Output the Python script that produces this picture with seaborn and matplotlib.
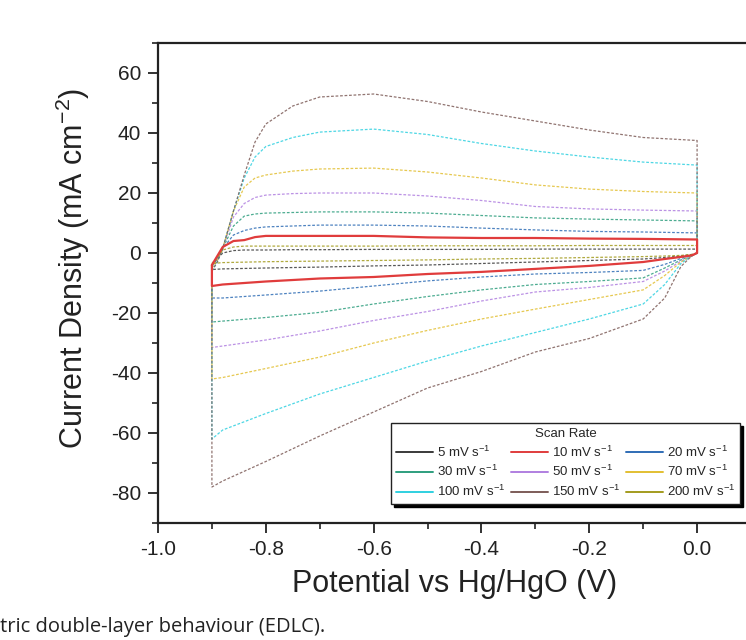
import matplotlib
matplotlib.use("Agg")
import matplotlib.pyplot as plt
import seaborn as sns
import pandas as pd
from matplotlib.lines import Line2D
from matplotlib.ticker import MultipleLocator

# ---------------- data ----------------
scan_rates = ["5", "10", "20", "30", "50", "70", "100", "150", "200"]
colors = ["#3a3a3a", "#e03c3c", "#2f6db5", "#2e9e7e", "#b07fe0",
          "#e2bf32", "#2fd0e0", "#7d5c58", "#a39b1e"]

# potential grids (V vs Hg/HgO)
E_anodic = [-0.90, -0.89, -0.88, -0.86, -0.84, -0.82, -0.80, -0.75, -0.70,
            -0.60, -0.50, -0.40, -0.30, -0.20, -0.10, 0.00]
E_cathodic = [0.00, -0.01, -0.03, -0.06, -0.10, -0.20, -0.30, -0.40, -0.50,
              -0.60, -0.70, -0.80, -0.88, -0.90]

# anodic (forward) current densities, mA cm-2
I_anodic_5 = [-4, -2, 0, 0.8, 1.0, 1.0, 1.0, 1.1, 1.1, 1.2, 1.2, 1.2, 1.3, 1.3, 1.3, 1.3]
I_anodic_10 = [-4, -1, 2, 4, 4.3, 5.3, 5.7, 5.7, 5.7, 5.7, 5.2, 5.0, 5.0, 4.8, 4.7, 4.5]
I_anodic_20 = [-4, -1.5, 1.5, 6, 7.5, 8.3, 8.7, 9, 9.3, 9.3, 9, 8.3, 7.7, 7.2, 7, 6.7]
I_anodic_30 = [-4.5, -2, 1.5, 9, 12.3, 13, 13.3, 13.5, 13.7, 13.7, 13.3, 12.5, 11.7, 11.3, 11, 10.7]
I_anodic_50 = [-5, -2.5, 1.5, 12, 16.5, 18.5, 19.3, 19.8, 20, 20, 19, 17.5, 15.5, 14.7, 14.3, 14]
I_anodic_70 = [-5, -2.5, 1.5, 14, 22, 25, 26, 27.3, 28, 28.3, 27, 25, 22.7, 21.3, 20.5, 20]
I_anodic_100 = [-6, -3, 1.5, 14, 25, 32, 35.5, 38.5, 40.3, 41.3, 39.5, 36.5, 34, 32, 30.3, 29.3]
I_anodic_150 = [-6, -3, 1.5, 14, 26, 37, 43, 49, 52, 53, 50.5, 47, 44, 41, 38.5, 37.5]
I_anodic_200 = [-3.5, -1.5, 1, 2, 2.3, 2.3, 2.3, 2.3, 2.3, 2.3, 2.4, 2.4, 2.4, 2.5, 2.5, 2.5]

# cathodic (reverse) current densities, mA cm-2
I_cathodic_5 = [0, -0.5, -1, -1.5, -2, -2.5, -3, -3.5, -4, -4.3, -4.7, -5, -5.3, -5.5]
I_cathodic_10 = [0, -0.8, -1.3, -2, -3, -4.3, -5.3, -6.3, -7, -8, -8.5, -9.5, -10.5, -11]
I_cathodic_20 = [0, -0.8, -1.8, -3.8, -5.8, -6.5, -7, -8, -9.3, -11, -12.7, -14, -15, -15]
I_cathodic_30 = [0, -0.9, -2.3, -5, -8.3, -9.5, -10.5, -12.3, -14.5, -17, -19.8, -21.5, -22.7, -23]
I_cathodic_50 = [0, -1, -2.7, -6, -9.5, -11.5, -13, -16, -19.5, -22.5, -26, -29, -31, -31.5]
I_cathodic_70 = [0, -1, -3, -7.5, -12.3, -15.5, -18.7, -22, -25.8, -30, -34.7, -38.5, -41.5, -42]
I_cathodic_100 = [0, -1, -3.5, -10.5, -17, -22, -26.5, -31, -36, -41.5, -47, -53.5, -59, -62]
I_cathodic_150 = [0, -1, -4.5, -15, -22, -28.5, -33, -39.5, -45, -53, -61, -69.5, -76, -78]
I_cathodic_200 = [0, -0.5, -0.8, -1, -1.2, -1.5, -1.8, -2, -2.3, -2.5, -2.7, -2.9, -3.2, -3.5]

x_ticks = [-1.0, -0.8, -0.6, -0.4, -0.2, 0.0]
y_ticks = [-80, -60, -40, -20, 0, 20, 40, 60]

anodic = [I_anodic_5, I_anodic_10, I_anodic_20, I_anodic_30, I_anodic_50,
          I_anodic_70, I_anodic_100, I_anodic_150, I_anodic_200]
cathodic = [I_cathodic_5, I_cathodic_10, I_cathodic_20, I_cathodic_30, I_cathodic_50,
            I_cathodic_70, I_cathodic_100, I_cathodic_150, I_cathodic_200]

# ---------------- style ----------------
sns.set_theme(style="ticks")
plt.rcParams.update({
    "font.family": ["Liberation Sans", "DejaVu Sans"],
    "mathtext.fontset": "custom",
    "mathtext.rm": "Liberation Sans",
    "mathtext.it": "Liberation Sans:italic",
    "mathtext.bf": "Liberation Sans:bold",
    "mathtext.default": "regular",
    "axes.unicode_minus": False,
})

fig = plt.figure(figsize=(7.46, 6.4), dpi=100)
ax = fig.add_axes([158 / 746, (640 - 523) / 640, 593 / 746, 480 / 640])

for rate, col, ia, ic in zip(scan_rates, colors, anodic, cathodic):
    df = pd.DataFrame({
        "E": list(E_anodic) + list(E_cathodic) + [E_anodic[0]],
        "I": list(ia) + list(ic) + [ia[0]],
    })
    if rate == "10":
        sns.lineplot(data=df, x="E", y="I", sort=False, estimator=None,
                     color=col, lw=1.6, ax=ax, zorder=3)
    else:
        sns.lineplot(data=df, x="E", y="I", sort=False, estimator=None,
                     color=col, lw=0.9, ax=ax, alpha=0.85,
                     dashes=False, linestyle=(0, (2.2, 1.4)), zorder=2)

ax.set_xlim(-1.0, 0.1)
ax.set_ylim(-90, 70)
ax.set_xticks(x_ticks)
ax.set_xticklabels([f"{v:.1f}" for v in x_ticks])
ax.set_yticks(y_ticks)
ax.set_yticklabels([str(v) for v in y_ticks])
ax.xaxis.set_minor_locator(MultipleLocator(0.1))
ax.yaxis.set_minor_locator(MultipleLocator(10))
ax.tick_params(which="major", direction="out", length=7, width=1.3,
               labelsize=15, color="#222222", labelcolor="#222222", pad=5)
ax.tick_params(which="minor", direction="out", length=4, width=1.2, color="#222222")
for s in ax.spines.values():
    s.set_linewidth(1.6)
    s.set_color("#222222")

ax.set_xlabel("Potential vs Hg/HgO (V)", fontsize=22, color="#222222")
ax.set_ylabel("Current Density (mA cm$^{-2}$)", fontsize=22, color="#222222")
ax.xaxis.set_label_coords(0.5, -0.095)
ax.yaxis.set_label_coords(-0.112, 0.53)

# legend, row-wise order in 3 columns
handles = [Line2D([0], [0], color=c, lw=1.4) for c in colors]
labels = [f"{r} mV s$^{{-1}}$" for r in scan_rates]
order = [0, 3, 6, 1, 4, 7, 2, 5, 8]
leg = ax.legend([handles[i] for i in order], [labels[i] for i in order],
                title="Scan Rate", ncol=3, loc="upper right",
                bbox_to_anchor=(0.981, 0.208), borderaxespad=0,
                fontsize=9.5, title_fontsize=9.5, handlelength=2.8,
                handletextpad=0.3, columnspacing=0.45, labelspacing=0.35,
                borderpad=0.35, frameon=True, fancybox=False, edgecolor="#222222",
                shadow={"color": "black", "alpha": 1.0})
leg.get_frame().set_linewidth(1.0)

fig.text(0.0, 8 / 640, "tric double-layer behaviour (EDLC).", ha="left",
         va="baseline", fontsize=14.5, family=["Open Sans", "DejaVu Sans"],
         color="#222222")

fig.savefig("out.png", dpi=100)
